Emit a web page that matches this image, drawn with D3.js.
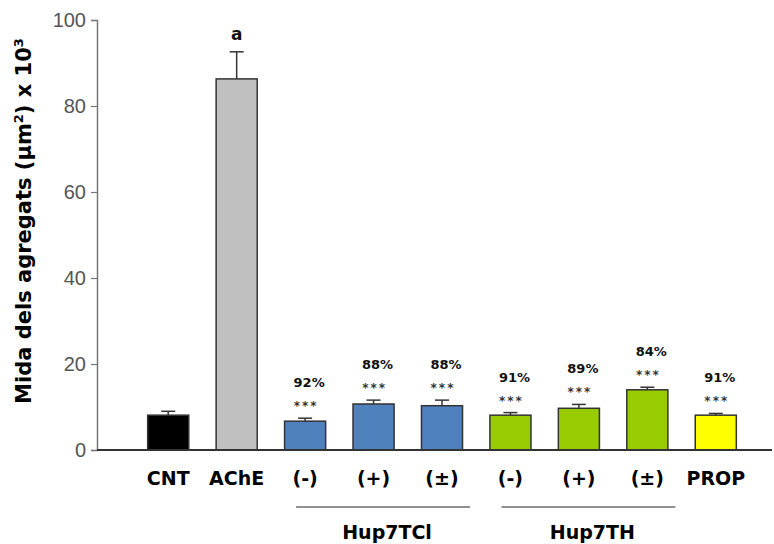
<!DOCTYPE html>
<html>
<head>
<meta charset="utf-8">
<script src="https://cdn.jsdelivr.net/npm/d3@7/dist/d3.min.js"></script>
<style>
  html, body { margin: 0; padding: 0; background: #fff; }
  svg { display: block; }
</style>
</head>
<body>
<svg id="chart" width="774" height="544"></svg>
<script>
// Aggregate size per treatment (µm² × 10³), mean and upper error bar
const categories = ["CNT", "AChE", "TCl(-)", "TCl(+)", "TCl(±)", "TH(-)", "TH(+)", "TH(±)", "PROP"];
const tickLabels = ["CNT", "AChE", "(-)", "(+)", "(±)", "(-)", "(+)", "(±)", "PROP"];
const means      = [8.1, 86.3, 6.7, 10.7, 10.3, 8.1, 9.7, 14.0, 8.1];
const errors     = [0.9, 6.3, 0.7, 0.9, 1.3, 0.6, 0.9, 0.6, 0.4];
const inhibition = ["", "", "92%", "88%", "88%", "91%", "89%", "84%", "91%"];
const stars      = ["", "", "***", "***", "***", "***", "***", "***", "***"];
const letters    = ["", "a", "", "", "", "", "", "", ""];
const fills      = ["#000000", "#c0c0c0", "#4f81bd", "#4f81bd", "#4f81bd", "#99cc00", "#99cc00", "#99cc00", "#ffff00"];
const groups = [
  { name: "Hup7TCl", from: "TCl(-)", to: "TCl(±)" },
  { name: "Hup7TH",  from: "TH(-)",  to: "TH(±)" }
];
const yTicks = [0, 20, 40, 60, 80, 100];

const svg = d3.select("#chart");
const axisX = 97, baseY = 450, topY = 20;
const boldFont = "'DejaVu Sans', Verdana, sans-serif";
const tickFont = "Arial, 'Liberation Sans', sans-serif";

const x = d3.scaleBand().domain(categories).range([134, 750]).paddingInner(0.4).paddingOuter(0.2);
const y = d3.scaleLinear().domain([0, 100]).range([baseY, topY]);

// y axis
const yAxis = svg.append("g")
  .attr("transform", `translate(${axisX},0)`)
  .call(d3.axisLeft(y).tickValues(yTicks).tickSize(6).tickPadding(5));
yAxis.attr("font-family", tickFont).attr("font-size", 20);
yAxis.select(".domain").attr("stroke", "#777").attr("stroke-width", 1.5);
yAxis.selectAll(".tick line").attr("stroke", "#777").attr("stroke-width", 1.2);
yAxis.selectAll(".tick text").attr("fill", "#555");

// y axis title
const yTitle = svg.append("text")
  .attr("transform", `translate(31,${(40 + 402) / 2}) rotate(-90)`)
  .attr("text-anchor", "middle")
  .attr("font-family", boldFont)
  .attr("font-size", 21).attr("font-weight", "bold").attr("fill", "#000");
yTitle.append("tspan").text("Mida dels agregats (µm");
yTitle.append("tspan").attr("dy", -8).attr("font-size", 13).text("2");
yTitle.append("tspan").attr("dy", 8).text(") x 10");
yTitle.append("tspan").attr("dy", -8).attr("font-size", 13).text("3");

const data = categories.map((c, i) => ({
  c, mean: means[i], err: errors[i], fill: fills[i],
  pct: inhibition[i], stars: stars[i], letter: letters[i], label: tickLabels[i]
}));

// error bars (drawn under the bars)
const eb = svg.append("g").attr("stroke", "#333").attr("stroke-width", 1.5);
data.forEach(d => {
  const cx = x(d.c) + x.bandwidth() / 2;
  eb.append("line").attr("x1", cx).attr("x2", cx).attr("y1", y(d.mean)).attr("y2", y(d.mean + d.err));
  eb.append("line").attr("x1", cx - 7).attr("x2", cx + 7).attr("y1", y(d.mean + d.err)).attr("y2", y(d.mean + d.err));
});

// bars
svg.append("g").selectAll("rect").data(data).join("rect")
  .attr("x", d => x(d.c))
  .attr("y", d => y(d.mean))
  .attr("width", x.bandwidth())
  .attr("height", d => y(0) - y(d.mean))
  .attr("fill", d => d.fill)
  .attr("stroke", "#333").attr("stroke-width", 1.5);

// baseline
svg.append("line").attr("x1", axisX).attr("x2", 772).attr("y1", baseY).attr("y2", baseY)
  .attr("stroke", "#333").attr("stroke-width", 2);

// significance marks and inhibition percentages
data.forEach(d => {
  const cx = x(d.c) + x.bandwidth() / 2;
  const yTop = y(d.mean + d.err);
  if (d.stars) {
    svg.append("text").attr("x", cx + 1).attr("y", yTop - 8).attr("text-anchor", "middle")
      .attr("font-family", boldFont)
      .attr("font-size", 12).attr("font-weight", "bold").attr("letter-spacing", 2)
      .attr("fill", "#333").text(d.stars);
  }
  if (d.pct) {
    svg.append("text").attr("x", cx + 4).attr("y", yTop - 31).attr("text-anchor", "middle")
      .attr("font-family", boldFont)
      .attr("font-size", 13).attr("font-weight", "bold").attr("fill", "#111").text(d.pct);
  }
  if (d.letter) {
    svg.append("text").attr("x", cx).attr("y", yTop - 12).attr("text-anchor", "middle")
      .attr("font-family", boldFont)
      .attr("font-size", 17).attr("font-weight", "bold").attr("fill", "#111").text(d.letter);
  }
});

// category labels
svg.append("g").selectAll("text").data(data).join("text")
  .attr("x", d => x(d.c) + x.bandwidth() / 2)
  .attr("y", 485)
  .attr("text-anchor", "middle")
  .attr("font-family", boldFont)
  .attr("font-size", 19).attr("font-weight", "bold").attr("fill", "#000")
  .text(d => d.label);

// compound group brackets
groups.forEach(g => {
  const x1 = x(g.from) + x.bandwidth() / 2 - 9;
  const x2 = x(g.to) + x.bandwidth() / 2 + 28;
  svg.append("line").attr("x1", x1).attr("x2", x2).attr("y1", 507).attr("y2", 507)
    .attr("stroke", "#222").attr("stroke-width", 1.2);
  svg.append("text").attr("x", (x1 + x2) / 2 + 4).attr("y", 539).attr("text-anchor", "middle")
    .attr("font-family", boldFont)
    .attr("font-size", 19).attr("font-weight", "bold").attr("fill", "#000").text(g.name);
});
</script>
</body>
</html>
